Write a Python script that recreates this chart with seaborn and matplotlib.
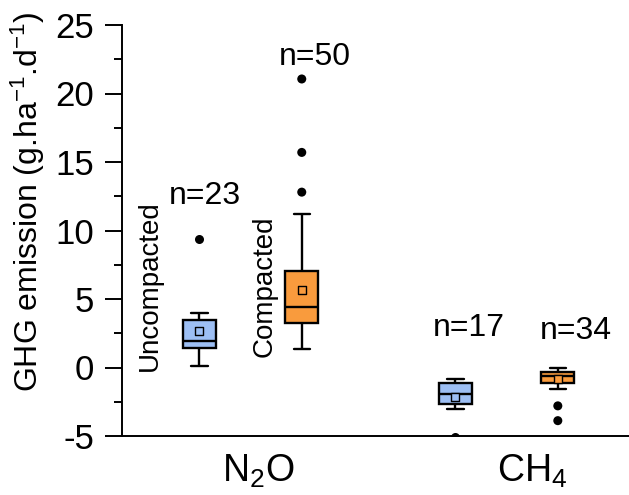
import numpy as np
import pandas as pd
import matplotlib
matplotlib.use("Agg")
import matplotlib.pyplot as plt
import seaborn as sns
from matplotlib.ticker import MultipleLocator

# ---- data ----
gases = ["N2O", "CH4"]
gas_labels = ["N$_2$O", "CH$_4$"]
treatments = ["Uncompacted", "Compacted"]
# order: (N2O,Unc), (N2O,Comp), (CH4,Unc), (CH4,Comp)
whislo = [0.13, 1.37, -3.03, -1.60]
q1 = [1.40, 3.27, -2.66, -1.15]
median = [1.93, 4.42, -1.92, -0.62]
q3 = [3.50, 7.05, -1.10, -0.30]
whishi = [3.95, 11.20, -0.85, -0.06]
means = [2.70, 5.66, -2.15, -0.85]
fliers = [[9.35], [21.06, 15.7, 12.8], [-5.05], [-2.8, -3.88]]
n_labels = ["n=23", "n=50", "n=17", "n=34"]

combos = [(g, t) for g in gases for t in treatments]

box_rows = []
for (g, t), a, b, c, d, e in zip(combos, whislo, q1, median, q3, whishi):
    for v in (a, b, c, d, e):
        box_rows.append({"gas": g, "treatment": t, "value": v})
box_df = pd.DataFrame(box_rows)

mean_df = pd.DataFrame([{"gas": g, "treatment": t, "value": m}
                        for (g, t), m in zip(combos, means)])
flier_df = pd.DataFrame([{"gas": g, "treatment": t, "value": v}
                         for (g, t), fl in zip(combos, fliers) for v in fl])

sns.set_theme(style="ticks")
plt.rcParams["font.family"] = ["Liberation Sans", "DejaVu Sans"]
plt.rcParams["mathtext.fontset"] = "custom"
plt.rcParams["mathtext.rm"] = "Liberation Sans"
plt.rcParams["mathtext.it"] = "Liberation Sans:italic"
plt.rcParams["axes.unicode_minus"] = False
for key in ("text.color", "axes.labelcolor", "axes.edgecolor",
            "xtick.color", "ytick.color"):
    plt.rcParams[key] = "black"

colors = {"Uncompacted": "#9dbff4", "Compacted": "#f99b3d"}

fig = plt.figure(figsize=(6.29, 4.95), dpi=100)
ax = fig.add_axes([122 / 629, 59 / 495, 507 / 629, 411 / 495])

sns.boxplot(data=box_df, x="gas", y="value", hue="treatment",
            order=gases, hue_order=treatments, palette=colors,
            saturation=1, whis=(0, 100), width=0.8, gap=0.68,
            linecolor="black", linewidth=1.7, showfliers=False,
            legend=False, ax=ax)

sns.stripplot(data=flier_df, x="gas", y="value", hue="treatment",
              order=gases, hue_order=treatments,
              palette={"Uncompacted": "black", "Compacted": "black"},
              dodge=True, jitter=False, size=6.5, legend=False, ax=ax,
              zorder=5)

sns.stripplot(data=mean_df, x="gas", y="value", hue="treatment",
              order=gases, hue_order=treatments, palette=colors,
              dodge=True, jitter=False, marker="s", size=6,
              edgecolor="black", linewidth=1.0, legend=False, ax=ax,
              zorder=6)

ax.set_xlim(-0.502, 1.478)
ax.set_ylim(-5, 25)
ax.yaxis.set_major_locator(MultipleLocator(5))
ax.yaxis.set_minor_locator(MultipleLocator(2.5))
ax.tick_params(axis="y", which="major", length=12, width=1.4,
               labelsize=25, pad=8, direction="out")
ax.tick_params(axis="y", which="minor", length=6, width=1.4, direction="out")
ax.set_xticks([0.03, 1.1])
ax.set_xticklabels(gas_labels)
ax.tick_params(axis="x", length=0, labelsize=27, pad=12)
ax.set_xlabel("")
ax.set_ylabel("GHG emission (g.ha$^{-1}$.d$^{-1}$)", fontsize=23)
ax.yaxis.set_label_coords(-0.148, 0.569)

for side in ("top", "right"):
    ax.spines[side].set_visible(False)
for side in ("left", "bottom"):
    ax.spines[side].set_linewidth(1.4)

# annotations
n_pos_x = [-0.178, 0.25, 0.854, 1.271]
n_pos_y = [12.5, 22.7, 2.9, 2.66]
for lab, x, y in zip(n_labels, n_pos_x, n_pos_y):
    ax.text(x, y, lab, ha="center", va="center", fontsize=23)

ax.text(-0.393, 6.0, "Uncompacted", rotation=90, ha="center", va="center",
        fontsize=20)
ax.text(0.055, 5.9, "Compacted", rotation=90, ha="center", va="center",
        fontsize=20)

fig.savefig("out.png", dpi=100)
